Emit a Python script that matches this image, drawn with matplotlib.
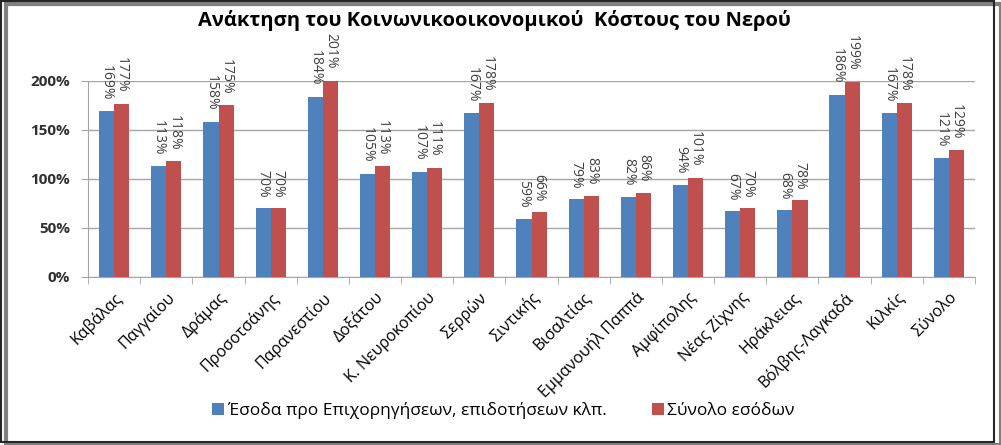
import numpy as np
import matplotlib.pyplot as plt
from matplotlib.patches import Rectangle
from matplotlib.ticker import PercentFormatter

plt.rcParams['font.family'] = ['Open Sans', 'DejaVu Sans']

# Δεδομένα
dimoi = ['Καβάλας', 'Παγγαίου', 'Δράμας', 'Προσοτσάνης', 'Παρανεστίου', 'Δοξάτου',
         'Κ. Νευροκοπίου', 'Σερρών', 'Σιντικής', 'Βισαλτίας', 'Εμμανουήλ Παππά',
         'Αμφίπολης', 'Νέας Ζίχνης', 'Ηράκλειας', 'Βόλβης-Λαγκαδά', 'Κιλκίς', 'Σύνολο']
esoda_pro = [169, 113, 158, 70, 184, 105, 107, 167, 59, 79, 82, 94, 67, 68, 186, 167, 121]
synolo_esodon = [177, 118, 175, 70, 201, 113, 111, 178, 66, 83, 86, 101, 70, 78, 199, 178, 129]

seira1 = 'Έσοδα προ Επιχορηγήσεων, επιδοτήσεων κλπ.'
seira2 = 'Σύνολο εσόδων'

fig = plt.figure(figsize=(10.01, 4.45), dpi=100)
ax = fig.add_axes([0.088, 0.378, 0.886, 0.44])

x = np.arange(len(dimoi))
w = 0.29
b1 = ax.bar(x - w / 2, esoda_pro, w, color='#4F81BD', label=seira1, zorder=3)
b2 = ax.bar(x + w / 2, synolo_esodon, w, color='#C0504D', label=seira2, zorder=3)

# Ετικέτες τιμών, κάθετες
for bars, vals in [(b1, esoda_pro), (b2, synolo_esodon)]:
    for r, v in zip(bars, vals):
        ax.annotate(f'{v}%', (r.get_x() + r.get_width() / 2, v),
                    xytext=(0, 8), textcoords='offset points',
                    rotation=270, ha='center', va='bottom',
                    fontsize=10, color='#404040', annotation_clip=False)

ax.set_xlim(-0.5, len(dimoi) - 0.5)
ax.set_ylim(0, 200)
ax.set_yticks([0, 50, 100, 150, 200])
ax.yaxis.set_major_formatter(PercentFormatter(decimals=0))
ax.grid(axis='y', color='#a6a6a6', lw=1, zorder=0)

ax.set_xticks(x)
ax.set_xticklabels(dimoi, rotation=45, ha='right', rotation_mode='anchor', fontsize=11.5)
ax.set_xticks(np.arange(len(dimoi) + 1) - 0.5, minor=True)
ax.tick_params(axis='x', which='major', length=0, pad=9)
ax.tick_params(axis='x', which='minor', length=5, color='#a6a6a6')
ax.tick_params(axis='y', length=5, color='#a6a6a6', labelsize=11, labelcolor='#303030', pad=8)
for t in ax.get_yticklabels():
    t.set_fontweight('bold')

for s in ['top', 'right']:
    ax.spines[s].set_visible(False)
for s in ['left', 'bottom']:
    ax.spines[s].set_color('#a6a6a6')

fig.text(0.494, 0.955, 'Ανάκτηση του Κοινωνικοοικονομικού  Κόστους του Νερού',
         ha='center', va='center', fontsize=14.5, fontweight='bold')

fig.legend(loc='center', bbox_to_anchor=(0.503, 0.077), ncol=2, frameon=False,
           fontsize=12.5, handlelength=0.7, handleheight=0.7, handletextpad=0.2,
           columnspacing=2.6)

# Πλαίσιο με σκιά
fig.patches.append(Rectangle((0.006, 0.0), 0.994, 0.99, transform=fig.transFigure,
                             facecolor='none', edgecolor='#7f7f7f', lw=3, zorder=0))
fig.patches.append(Rectangle((0.001, 0.007), 0.992, 0.99, transform=fig.transFigure,
                             facecolor='none', edgecolor='#262626', lw=1.5, zorder=1))

fig.savefig('out.png', dpi=100)
